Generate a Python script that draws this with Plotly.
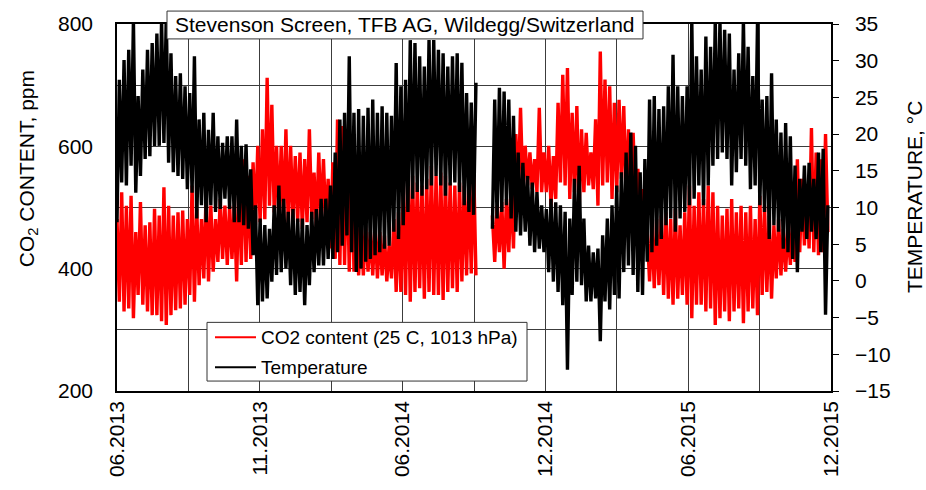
import pandas as pd
import plotly.graph_objects as go

# Sampling of the logger record: one low/high pair every 6 days from 1 June 2013
start = pd.Timestamp("2013-06-01")
end = pd.Timestamp("2015-12-01")
step_days = 6

# Temperature, deg C (low / high of each 6-day window); None = logger offline
temp_low = [
    8.0, 13.4, 13.0, 15.7, 12.0, 14.3, 16.6, 17.0, 18.4, 18.4,
    18.8, 16.1, 14.8, 14.3, 13.9, 12.5, 12.0, 8.5, 10.3, 8.0,
    10.3, 9.4, 9.8, 11.2, 9.8, 8.0, 8.0, 7.6, 7.1, 3.5,
    -3.3, -2.8, -2.4, -0.1, 0.8, 1.2, 1.7, -0.6, -1.9, -1.5,
    -3.3, -0.6, 1.2, 2.1, 2.1, 3.0, 3.0, 3.9, 4.8, 6.2,
    3.9, 1.2, 1.7, 2.6, 3.0, 3.5, 3.9, 4.4, 4.8, 6.7,
    5.7, 7.6, 9.4, 11.2, 12.1, 11.6, 12.5, 13.0, 14.3, 13.0,
    11.6, 13.0, 13.4, 12.1, 10.3, 9.4, 9.0, None, None, None,
    7.1, 8.5, 9.4, 10.3, 8.5, 6.7, 6.2, 6.7, 4.8, 3.9,
    4.4, 3.9, 1.2, -0.1, -1.5, -3.3, -12.1, -1.9, -0.1, -0.6,
    -2.8, -2.8, -2.4, -8.2, -2.8, -3.9, -1.9, -2.4, 1.2, 2.1,
    0.8, -1.5, -1.9, 2.6, 3.9, 4.8, 5.7, 7.6, 8.5, 6.7,
    8.5, 9.4, 10.3, 11.2, 13.0, 10.3, 13.0, 15.7, 16.6, 17.5,
    16.6, 13.0, 14.8, 16.6, 15.7, 12.5, 13.0, 10.3, 9.4, 5.7,
    7.6, 6.7, 4.4, 3.9, 3.0, 1.2, 6.7, 5.7, 6.7, 5.7,
    3.9, -4.6,
]
temp_high = [
    27.4, 30.1, 31.5, 35.5, 25.2, 28.8, 31.5, 32.4, 33.7, 35.5,
    36.0, 31.0, 27.9, 28.3, 26.5, 25.6, 30.6, 22.0, 22.9, 20.6,
    22.9, 19.7, 18.8, 19.7, 19.7, 22.0, 18.4, 18.6, 15.2, 10.3,
    8.5, 7.6, 7.1, 10.3, 13.0, 11.2, 9.4, 9.8, 8.5, 8.5,
    7.6, 9.4, 9.8, 11.2, 11.2, 13.0, 17.5, 22.0, 22.9, 30.6,
    22.9, 23.4, 22.5, 23.6, 24.7, 22.9, 23.8, 22.9, 22.5, 29.7,
    26.5, 27.4, 32.8, 32.4, 30.6, 29.2, 32.8, 32.8, 31.5, 31.0,
    29.2, 30.6, 31.0, 29.7, 25.6, 24.3, 27.0, None, None, None,
    24.7, 26.3, 25.8, 24.7, 22.5, 17.5, 16.1, 14.3, 13.4, 12.1,
    10.3, 9.8, 11.2, 10.7, 10.3, 9.4, 8.5, 13.9, 15.7, 8.5,
    4.8, 3.9, 4.4, 6.2, 8.5, 10.3, 13.0, 14.8, 17.5, 20.2,
    18.4, 14.8, 16.6, 24.7, 25.2, 23.4, 23.8, 26.5, 30.8, 26.5,
    25.2, 26.5, 35.5, 30.6, 28.8, 33.3, 31.9, 35.5, 35.5, 34.2,
    33.7, 28.8, 31.0, 35.5, 31.9, 27.9, 35.2, 24.7, 25.2, 28.3,
    22.0, 20.2, 21.5, 19.7, 15.7, 13.9, 15.7, 16.1, 13.9, 17.5,
    18.0, 10.3,
]

# CO2 content, ppm at 25 C / 1013 hPa (low / high of each 6-day window)
co2_low = [
    346, 330, 335, 319, 357, 341, 330, 324, 324, 314,
    308, 324, 332, 335, 341, 357, 346, 373, 384, 379,
    395, 411, 416, 406, 416, 379, 406, 411, 416, 471,
    476, 481, 503, 492, 481, 476, 471, 481, 476, 465,
    476, 481, 465, 476, 471, 433, 416, 406, 406, 395,
    395, 389, 389, 395, 389, 384, 389, 379, 384, 362,
    362, 357, 346, 362, 368, 351, 362, 357, 357, 349,
    362, 368, 362, 379, 389, 392, 389, None, None, None,
    411, 427, 400, 427, 433, 525, 530, 536, 530, 525,
    525, 525, 503, 514, 541, 536, 514, 525, 498, 525,
    536, 530, 503, 536, 541, 514, 525, 547, 514, 503,
    503, 498, 454, 379, 368, 373, 357, 351, 341, 351,
    357, 341, 319, 341, 341, 330, 335, 308, 319, 330,
    314, 330, 335, 311, 330, 335, 324, 357, 362, 351,
    384, 389, 395, 406, 411, 427, 438, 433, 427, 422,
    427, 460,
]
co2_high = [
    481, 525, 503, 519, 460, 509, 471, 476, 498, 487,
    533, 503, 487, 492, 495, 481, 536, 498, 481, 525,
    503, 481, 514, 503, 503, 503, 547, 579, 552, 574,
    601, 628, 712, 668, 601, 601, 628, 601, 584, 590,
    579, 628, 557, 590, 579, 547, 574, 644, 633, 590,
    601, 503, 481, 471, 460, 471, 460, 454, 438, 481,
    492, 525, 574, 552, 541, 536, 547, 568, 552, 557,
    552, 541, 536, 541, 536, 547, 574, None, None, None,
    487, 503, 509, 514, 536, 620, 663, 601, 590, 579,
    663, 590, 601, 584, 671, 717, 728, 655, 666, 628,
    622, 590, 644, 755, 709, 698, 671, 676, 666, 628,
    622, 563, 530, 460, 471, 481, 487, 492, 481, 498,
    471, 492, 536, 503, 525, 514, 536, 525, 503, 487,
    498, 514, 492, 503, 492, 503, 481, 519, 503, 487,
    471, 481, 465, 471, 481, 579, 547, 536, 630, 590,
    579, 620,
]

# Labelled dates on the time axis and the axis tick values
date_labels = ["06.2013", "11.2013", "06.2014", "12.2014", "06.2015", "12.2015"]
co2_ticks = [200, 400, 600, 800]
temp_ticks = list(range(-15, 40, 5))

series_names = ["CO2 content (25 C, 1013 hPa)", "Temperature"]
series_colors = ["#ff0000", "#000000"]


def daily_swing(first, second):
    """Interleave the two values of each window into one time-ordered line."""
    xs, ys = [], []
    half = pd.Timedelta(days=step_days / 2)
    for i, (a, b) in enumerate(zip(first, second)):
        t = start + pd.Timedelta(days=step_days * i)
        xs += [t, t + half]
        ys += [a, b]
    return xs, ys


co2_x, co2_y = daily_swing(co2_high, co2_low)
temp_x, temp_y = daily_swing(temp_low, temp_high)

FONT = "Arial, 'Liberation Sans', Helvetica, sans-serif"
GRID = "#3c3c3c"

# Plot-area geometry in pixels, used to place the framed heading and legend
L, R, T, B = 117, 831, 22, 391


def px_x(x):
    return (x - L) / (R - L)


def px_y(y):
    return (B - y) / (B - T)


fig = go.Figure()
fig.add_trace(go.Scatter(
    x=co2_x, y=co2_y, mode="lines", name=series_names[0],
    line=dict(color=series_colors[0], width=3.4), connectgaps=False,
    yaxis="y", showlegend=False,
))
fig.add_trace(go.Scatter(
    x=temp_x, y=temp_y, mode="lines", name=series_names[1],
    line=dict(color=series_colors[1], width=3.4), connectgaps=False,
    yaxis="y2", showlegend=False,
))

# Vertical gridlines split the period into ten equal parts; every second one is labelled
grid_dates = [start + (end - start) * k / 10 for k in range(11)]
label_dates = grid_dates[::2]

fig.update_layout(
    width=926, height=490,
    margin=dict(l=L, r=926 - R, t=T, b=490 - B, pad=0),
    paper_bgcolor="white", plot_bgcolor="white",
    font=dict(family=FONT, size=21, color="black"),
    showlegend=False,
    xaxis=dict(
        type="date", range=[start, end],
        tickvals=label_dates, ticktext=date_labels, tickangle=-90,
        showgrid=True, gridcolor=GRID, gridwidth=1.2,
        minor=dict(tickvals=grid_dates, showgrid=True, gridcolor=GRID,
                   gridwidth=1.2, ticks=""),
        showline=True, linecolor="black", linewidth=1.5, mirror=True,
        ticks="", zeroline=False,
        tickfont=dict(family=FONT, size=21, color="black"),
    ),
    yaxis=dict(
        range=[200, 800], tickvals=co2_ticks,
        showgrid=True, gridcolor=GRID, gridwidth=1.2,
        minor=dict(dtick=100, showgrid=True, gridcolor=GRID, gridwidth=1.2,
                   ticks=""),
        showline=True, linecolor="black", linewidth=1.5, mirror=True,
        ticks="", zeroline=False, ticklabelstandoff=18,
        tickfont=dict(family=FONT, size=21, color="black"),
    ),
    yaxis2=dict(
        range=[-15, 35], tickvals=temp_ticks, overlaying="y", side="right",
        showgrid=False, zeroline=False,
        showline=True, linecolor="black", linewidth=1.5,
        ticks="outside", ticklen=6, tickwidth=1, tickcolor="black",
        ticklabelstandoff=12,
        tickfont=dict(family=FONT, size=21, color="black"),
    ),
)

# Heading in a framed box overlapping the top of the plot frame
fig.add_shape(
    type="rect", xref="paper", yref="paper", layer="above",
    x0=px_x(167), x1=px_x(643), y0=px_y(37), y1=px_y(9),
    fillcolor="white", line=dict(color="#333333", width=1),
)
fig.add_annotation(
    text="Stevenson Screen, TFB AG, Wildegg/Switzerland",
    xref="paper", yref="paper", x=px_x(405), y=px_y(23),
    xanchor="center", yanchor="middle", showarrow=False,
    font=dict(family=FONT, size=21, color="black"),
)

# Framed legend: line sample plus series name per row
fig.add_shape(
    type="rect", xref="paper", yref="paper", layer="above",
    x0=px_x(207), x1=px_x(527), y0=px_y(381), y1=px_y(322),
    fillcolor="white", line=dict(color="#333333", width=1),
)
for row, (name, color) in enumerate(zip(series_names, series_colors)):
    yc = 337 + 30 * row
    fig.add_shape(
        type="line", xref="paper", yref="paper", layer="above",
        x0=px_x(215), x1=px_x(256), y0=px_y(yc), y1=px_y(yc),
        line=dict(color=color, width=2),
    )
    fig.add_annotation(
        text=name, xref="paper", yref="paper", x=px_x(259), y=px_y(yc),
        xanchor="left", yanchor="middle", showarrow=False,
        font=dict(family=FONT, size=19, color="black"),
    )

# Axis titles
fig.add_annotation(
    text="CO<sub>2</sub> CONTENT, ppm", textangle=-90,
    xref="paper", yref="paper", x=px_x(28), y=px_y(168),
    xanchor="center", yanchor="middle", showarrow=False,
    font=dict(family=FONT, size=21, color="black"),
)
fig.add_annotation(
    text="TEMPERATURE, °C", textangle=-90,
    xref="paper", yref="paper", x=px_x(914), y=px_y(196),
    xanchor="center", yanchor="middle", showarrow=False,
    font=dict(family=FONT, size=21, color="black"),
)

fig.write_html("out.html")
